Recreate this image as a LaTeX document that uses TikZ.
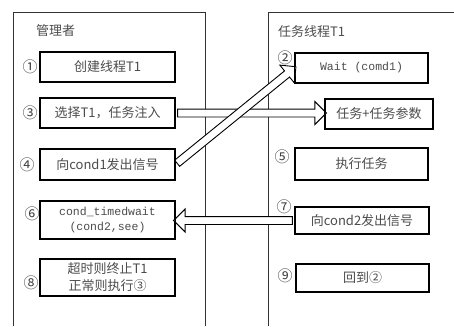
\documentclass[tikz,border=0pt]{standalone}
\usepackage{fontspec}
\usetikzlibrary{shapes.arrows,calc}
\newfontfamily\cjk{Noto Sans CJK SC}
\newfontfamily\mono{Liberation Mono}
\begin{document}
\begin{tikzpicture}[x=1pt,y=-1pt,
  panel/.style={draw=black!80,line width=0.9pt},
  stepbox/.style={draw=black,line width=1.2pt,fill=white,minimum width=135pt,inner sep=2pt,
    font=\cjk\fontsize{13}{16}\selectfont,text=black!70,align=center},
  numlbl/.style={font=\cjk\fontsize{15}{16}\selectfont,text=black!75,inner sep=0pt},
  ttl/.style={font=\cjk\fontsize{13}{16}\selectfont,text=black!70,inner sep=0pt,anchor=west},
  fatarrow/.style={single arrow,draw=black,line width=0.9pt,fill=white,inner sep=3.5pt,
    minimum width=0pt,single arrow head extend=7.5pt,single arrow tip angle=90,outer sep=0pt}
]
\useasboundingbox (0,0) rectangle (454,326);
% panels
\coordinate (lbl) at (13,326);
\coordinate (ltl) at (13,12);
\coordinate (ltr) at (205,12);
\coordinate (lbr) at (205,326);
\coordinate (rbl) at (268,326);
\coordinate (rtl) at (268,12);
\coordinate (rtr) at (454,12);
\draw[panel] (lbl) -- (ltl) -- (ltr) -- (lbr);
\draw[panel] (rbl) -- (rtl) -- (rtr);
\node[ttl] (t1) at (36,31) {管理者};
\node[ttl] (t2) at (278,32) {任务线程T1};
% boxes
\path
  node[stepbox,minimum height=30pt] (b1) at (107.5,67) {创建线程T1}
  node[stepbox,minimum height=30pt] (b3) at (107.5,113) {选择T1，任务注入}
  node[stepbox,minimum height=31pt] (b4) at (107.5,164.5) {向cond1发出信号}
  node[stepbox,minimum height=38pt,font=\mono\fontsize{11.5}{15}\selectfont] (b6) at (107.5,220) {cond\_timedwait\\(cond2,see)}
  node[stepbox,minimum height=37pt,font=\cjk\fontsize{13}{17}\selectfont] (b8) at (107.5,277.5) {超时则终止T1\\正常则执行③}
  node[stepbox,minimum width=133pt,minimum height=30pt,font=\mono\fontsize{11.5}{14}\selectfont] (b2) at (361.5,68) {Wait (comd1)}
  node[stepbox,minimum width=108pt,minimum height=30pt] (bt) at (379,114) {任务+任务参数}
  node[stepbox,minimum width=133pt,minimum height=32pt] (b5) at (361.5,164) {执行任务}
  node[stepbox,minimum width=134pt,minimum height=27pt] (b7) at (362,220.5) {向cond2发出信号}
  node[stepbox,minimum width=133pt,minimum height=28pt] (b9) at (362.5,278) {回到②};
% arrows
\path let \p1=(b3.east), \p2=(bt.west |- b3.east), \n1={atan2(\y2-\y1,\x2-\x1)}, \n2={veclen(\x2-\x1,\y2-\y1)} in
  node[fatarrow,rotate=\n1,minimum height=\n2] (a1) at ($(\p1)!0.5!(\p2)$) {};
\path let \p1=(b4.east), \p2=(b2.west), \n1={atan2(\y2-\y1,\x2-\x1)}, \n2={veclen(\x2-\x1,\y2-\y1)} in
  node[fatarrow,rotate=\n1,minimum height=\n2] (a2) at ($(\p1)!0.5!(\p2)$) {};
\path let \p1=(b7.west), \p2=(b6.east |- b7.west), \n1={atan2(\y2-\y1,\x2-\x1)}, \n2={veclen(\x2-\x1,\y2-\y1)} in
  node[fatarrow,rotate=\n1,minimum height=\n2] (a3) at ($(\p1)!0.5!(\p2)$) {};
% redraw box borders over arrow ends
\foreach \b in {b3,b4,b6,b2,bt,b7}{\draw[line width=1.2pt] (\b.north west) rectangle (\b.south east);}
% numbers
\node[numlbl] (n1) at (30,67) {①};
\node[numlbl] (n3) at (30,113) {③};
\node[numlbl] (n4) at (27,165) {④};
\node[numlbl] (n6) at (32,214) {⑥};
\node[numlbl] (n8) at (31,283) {⑧};
\node[numlbl] (n2) at (285,58) {②};
\node[numlbl] (n5) at (282,157) {⑤};
\node[numlbl] (n7) at (284,207) {⑦};
\node[numlbl] (n9) at (285,276) {⑨};
\end{tikzpicture}
\end{document}
